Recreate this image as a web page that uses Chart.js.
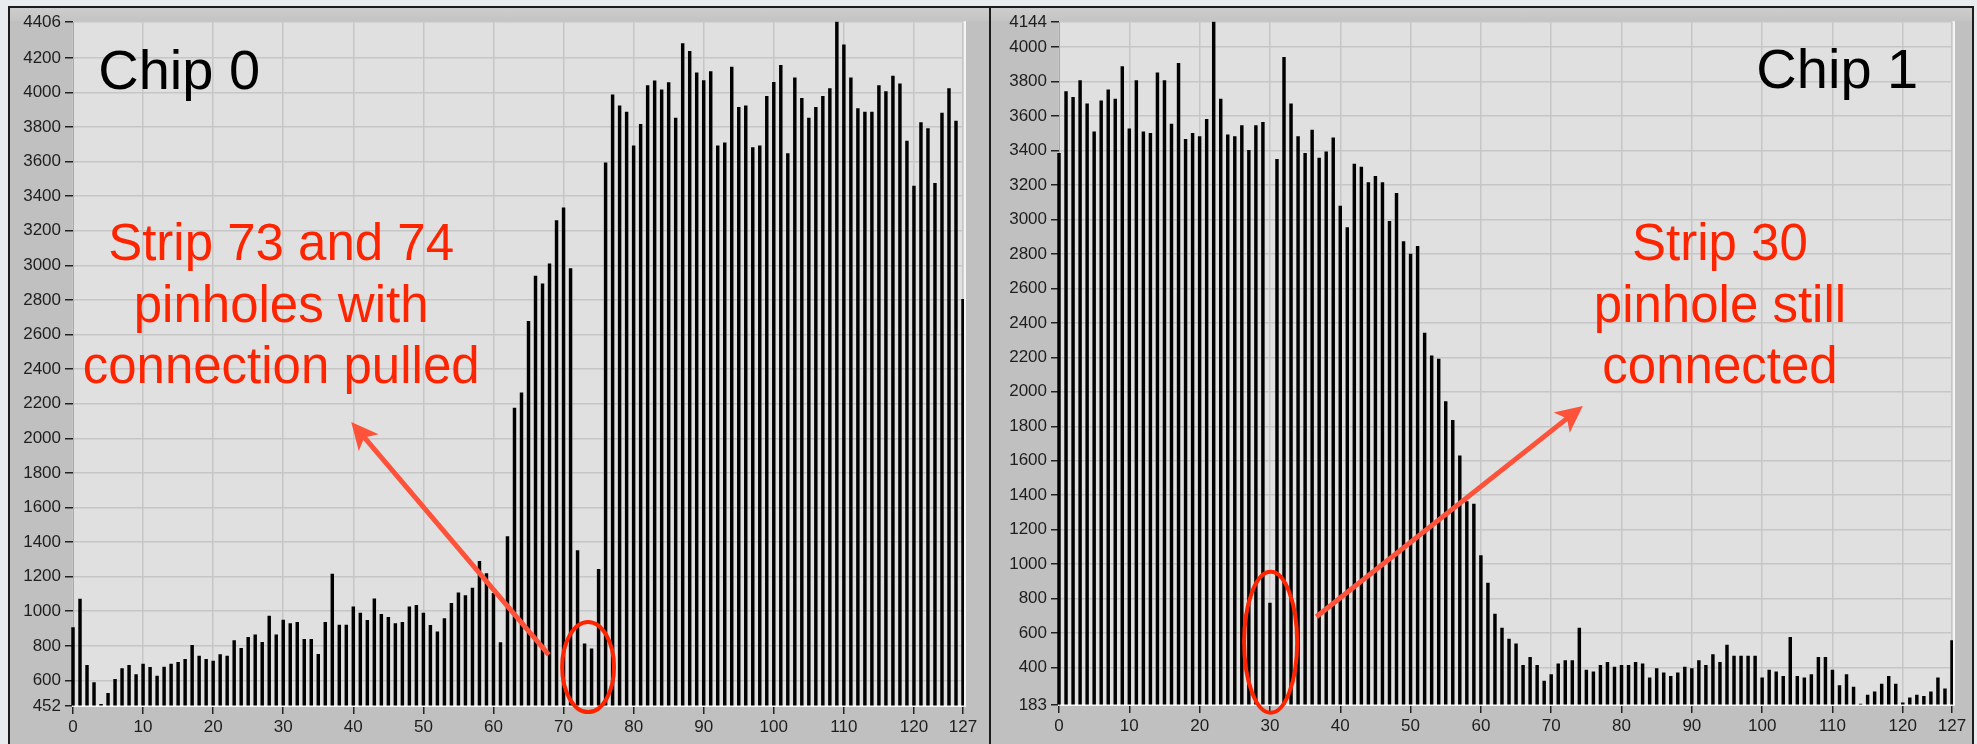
<!DOCTYPE html>
<html>
<head>
<meta charset="utf-8">
<title>Chip 0 / Chip 1 strip scan</title>
<script src="https://cdn.jsdelivr.net/npm/chart.js@4.4.1/dist/chart.umd.min.js"></script>
<style>
  html, body { margin: 0; padding: 0; }
  body { width: 1977px; height: 744px; overflow: hidden; background: #e9ecef; position: relative; }
  .panel { position: absolute; top: 6px; height: 760px; background: #c0c0c0; border-top: 2px solid #1c1c1c; box-sizing: border-box; }
  .panel::before { content: ""; position: absolute; left: 0; right: 0; top: 0; height: 13px; background: linear-gradient(#cdcdcd, #c4c4c4); }
  #p0 { left: 8px; width: 983px; border-left: 2px solid #1c1c1c; }
  #p1 { left: 989px; width: 985px; border-left: 2px solid #1c1c1c; border-right: 2px solid #1c1c1c; }
  canvas { position: absolute; top: 8px; }
  #chip0 { left: 10px; }
  #chip1 { left: 992px; }
</style>
</head>
<body>
<div class="panel" id="p0"></div>
<div class="panel" id="p1"></div>
<canvas id="chip0" width="978" height="736"></canvas>
<canvas id="chip1" width="978" height="736"></canvas>
<script>
// strip numbers 0..127
const strips = [
  0, 1, 2, 3, 4, 5, 6, 7, 8, 9, 10, 11, 12, 13, 14, 15,
  16, 17, 18, 19, 20, 21, 22, 23, 24, 25, 26, 27, 28, 29, 30, 31,
  32, 33, 34, 35, 36, 37, 38, 39, 40, 41, 42, 43, 44, 45, 46, 47,
  48, 49, 50, 51, 52, 53, 54, 55, 56, 57, 58, 59, 60, 61, 62, 63,
  64, 65, 66, 67, 68, 69, 70, 71, 72, 73, 74, 75, 76, 77, 78, 79,
  80, 81, 82, 83, 84, 85, 86, 87, 88, 89, 90, 91, 92, 93, 94, 95,
  96, 97, 98, 99, 100, 101, 102, 103, 104, 105, 106, 107, 108, 109, 110, 111,
  112, 113, 114, 115, 116, 117, 118, 119, 120, 121, 122, 123, 124, 125, 126, 127
];

// counts per strip
const chip0 = [
  905, 1070, 687, 587, 462, 525, 606, 668, 687, 633, 695, 676, 625, 677, 695, 705,
  722, 803, 741, 722, 712, 749, 741, 830, 785, 849, 864, 820, 972, 864, 949, 928,
  936, 838, 838, 751, 936, 1215, 920, 920, 1026, 990, 947, 1072, 982, 965, 928, 936,
  1026, 1034, 990, 918, 881, 957, 1045, 1107, 1090, 1134, 1288, 1217, 1103, 818, 1431, 2175,
  2263, 2677, 2938, 2893, 3009, 3259, 3332, 2982, 1350, 812, 783, 1242, 3593, 3986, 3922, 3887,
  3691, 3816, 4040, 4067, 4015, 4057, 3852, 4282, 4238, 4113, 4069, 4121, 3691, 3708, 4147, 3914,
  3922, 3681, 3691, 3978, 4059, 4157, 3646, 4085, 3966, 3852, 3914, 3978, 4022, 4406, 4275, 4085,
  3906, 3887, 3887, 4040, 4005, 4094, 4049, 3718, 3458, 3826, 3791, 3475, 3880, 4022, 3834, 2803
];
const chip1 = [
  3383, 3742, 3708, 3806, 3671, 3508, 3688, 3752, 3698, 3887, 3526, 3806, 3508, 3499, 3850, 3806,
  3553, 3905, 3464, 3499, 3481, 3580, 4144, 3698, 3491, 3481, 3545, 3400, 3545, 3563, 774, 3348,
  3940, 3671, 3481, 3383, 3518, 3356, 3392, 3473, 3077, 2952, 3321, 3304, 3213, 3250, 3213, 2989,
  3151, 2871, 2799, 2844, 2341, 2208, 2190, 1943, 1835, 1628, 1363, 1348, 1050, 890, 711, 629,
  566, 538, 413, 459, 413, 322, 359, 422, 440, 440, 629, 386, 376, 413, 430, 403,
  413, 413, 430, 422, 341, 395, 369, 349, 369, 403, 395, 440, 413, 476, 430, 531,
  467, 467, 467, 467, 341, 386, 376, 349, 575, 349, 341, 359, 459, 459, 386, 295,
  359, 287, 189, 241, 260, 305, 349, 305, 196, 224, 241, 233, 260, 341, 277, 557
];

// axis ticks
const stripTicks = [0, 10, 20, 30, 40, 50, 60, 70, 80, 90, 100, 110, 120, 127];
const chip0Ticks = [452, 600, 800, 1000, 1200, 1400, 1600, 1800, 2000, 2200, 2400, 2600,
  2800, 3000, 3200, 3400, 3600, 3800, 4000, 4200, 4406];
const chip1Ticks = [183, 400, 600, 800, 1000, 1200, 1400, 1600, 1800, 2000, 2200, 2400,
  2600, 2800, 3000, 3200, 3400, 3600, 3800, 4000, 4144];

const tickFont = { family: '"Liberation Sans", Arial, sans-serif', size: 17 };
const gridGray = 'rgb(198,198,198)';
const noteRed = 'rgb(255,36,0)';
const arrowRed = 'rgb(255,82,58)';

function drawArrow(ctx, x0, y0, x1, y1) {
  const ang = Math.atan2(y1 - y0, x1 - x0);
  const ux = Math.cos(ang), uy = Math.sin(ang);
  const len = 27, half = 13;
  ctx.strokeStyle = arrowRed;
  ctx.fillStyle = arrowRed;
  ctx.lineWidth = 5;
  ctx.beginPath();
  ctx.moveTo(x0, y0);
  ctx.lineTo(x1 - ux * len * 0.7, y1 - uy * len * 0.7);
  ctx.stroke();
  const bx = x1 - ux * len, by = y1 - uy * len;
  ctx.beginPath();
  ctx.moveTo(x1, y1);
  ctx.lineTo(bx - uy * half, by + ux * half);
  ctx.lineTo(x1 - ux * len * 0.75, y1 - uy * len * 0.75);
  ctx.lineTo(bx + uy * half, by - ux * half);
  ctx.closePath();
  ctx.fill();
}

// plot background, edges and the hand-drawn notes
const panelLook = {
  id: 'panelLook',
  beforeDraw(chart) {
    const { ctx, chartArea: a } = chart;
    ctx.save();
    ctx.fillStyle = 'rgb(224,224,224)';
    ctx.fillRect(a.left - 1, a.top - 1, a.right - a.left + 3, a.bottom - a.top + 1);
    ctx.restore();
  },
  afterDraw(chart, args, o) {
    const { ctx, chartArea: a, scales } = chart;
    const X = v => scales.x.getPixelForValue(v);
    const Y = v => scales.y.getPixelForValue(v);
    ctx.save();
    // light right edge of the plot
    ctx.strokeStyle = '#f4f4f4';
    ctx.lineWidth = 2;
    ctx.beginPath();
    ctx.moveTo(a.right + 2, a.top - 1);
    ctx.lineTo(a.right + 2, a.bottom + 1);
    ctx.stroke();

    // chip title
    ctx.fillStyle = '#000';
    ctx.font = '56px "Liberation Sans", Arial, sans-serif';
    ctx.textAlign = o.title.align;
    ctx.textBaseline = 'alphabetic';
    ctx.fillText(o.title.text, X(o.title.x), Y(o.title.y));

    // red note
    ctx.fillStyle = noteRed;
    ctx.font = '51px "Liberation Sans", Arial, sans-serif';
    ctx.textAlign = 'center';
    o.note.lines.forEach((line, i) => {
      ctx.fillText(line, X(o.note.x), Y(o.note.y) + i * 61.5);
    });

    // arrow
    drawArrow(ctx, X(o.arrow.from[0]), Y(o.arrow.from[1]), X(o.arrow.to[0]), Y(o.arrow.to[1]));

    // ring around the bad strip(s)
    const cx = X(o.ring.x), cy = Y(o.ring.y);
    const rx = Math.abs(X(o.ring.x + o.ring.dx) - cx);
    const ry = Math.abs(Y(o.ring.y + o.ring.dy) - cy);
    ctx.strokeStyle = noteRed;
    ctx.lineWidth = 4;
    ctx.beginPath();
    ctx.ellipse(cx, cy, rx, ry, 0, 0, Math.PI * 2);
    ctx.stroke();
    ctx.restore();
  }
};

function makeChart(id, values, yMin, yMax, yTicks, yWidth, xHeight, padRight, notes) {
  return new Chart(document.getElementById(id), {
    type: 'bar',
    data: {
      labels: strips,
      datasets: [{
        data: values,
        backgroundColor: '#000',
        borderWidth: 0,
        barThickness: 2.8,
        base: yMin,
        clip: { left: 3, right: 3, top: 1, bottom: 0 }
      }]
    },
    options: {
      responsive: false,
      animation: false,
      layout: { padding: { top: 14, right: padRight, left: 0, bottom: 0 } },
      plugins: {
        legend: { display: false },
        tooltip: { enabled: false },
        panelLook: notes
      },
      scales: {
        x: {
          type: 'linear',
          min: 0,
          max: 127,
          offset: false,
          afterBuildTicks: axis => { axis.ticks = stripTicks.map(v => ({ value: v })); },
          afterFit: axis => { axis.height = xHeight; },
          grid: { offset: false, color: gridGray, lineWidth: 1.5, tickLength: 8, tickColor: '#222', tickWidth: 1.5 },
          border: { color: '#f8f8f8', width: 2 },
          ticks: { autoSkip: false, maxRotation: 0, padding: 3, color: '#1e1e1e', font: tickFont, callback: v => String(v) }
        },
        y: {
          min: yMin,
          max: yMax,
          afterBuildTicks: axis => { axis.ticks = yTicks.map(v => ({ value: v })); },
          afterFit: axis => { axis.width = yWidth; },
          grid: { color: gridGray, lineWidth: 1.5, tickLength: 8, tickColor: '#222', tickWidth: 1.5 },
          border: { color: 'rgb(168,168,168)', width: 1 },
          ticks: { autoSkip: false, padding: 4, color: '#1e1e1e', font: tickFont, callback: v => String(v) }
        }
      }
    },
    plugins: [panelLook]
  });
}

makeChart('chip0', chip0, 452, 4406, chip0Ticks, 63, 38, 25, {
  title: { text: 'Chip 0', x: 3.6, y: 4018, align: 'left' },
  note: { lines: ['Strip 73 and 74', 'pinholes with', 'connection pulled'], x: 29.7, y: 3030 },
  arrow: { from: [67.9, 747], to: [39.7, 2094] },
  ring: { x: 73.5, y: 677, dx: 3.7, dy: 260 }
});

makeChart('chip1', chip1, 183, 4144, chip1Ticks, 67, 39, 18, {
  title: { text: 'Chip 1', x: 122.2, y: 3760, align: 'right' },
  note: { lines: ['Strip 30', 'pinhole still', 'connected'], x: 94.0, y: 2764 },
  arrow: { from: [36.6, 695], to: [74.5, 1918] },
  ring: { x: 30.1, y: 547, dx: 3.77, dy: 409 }
});
</script>
</body>
</html>
